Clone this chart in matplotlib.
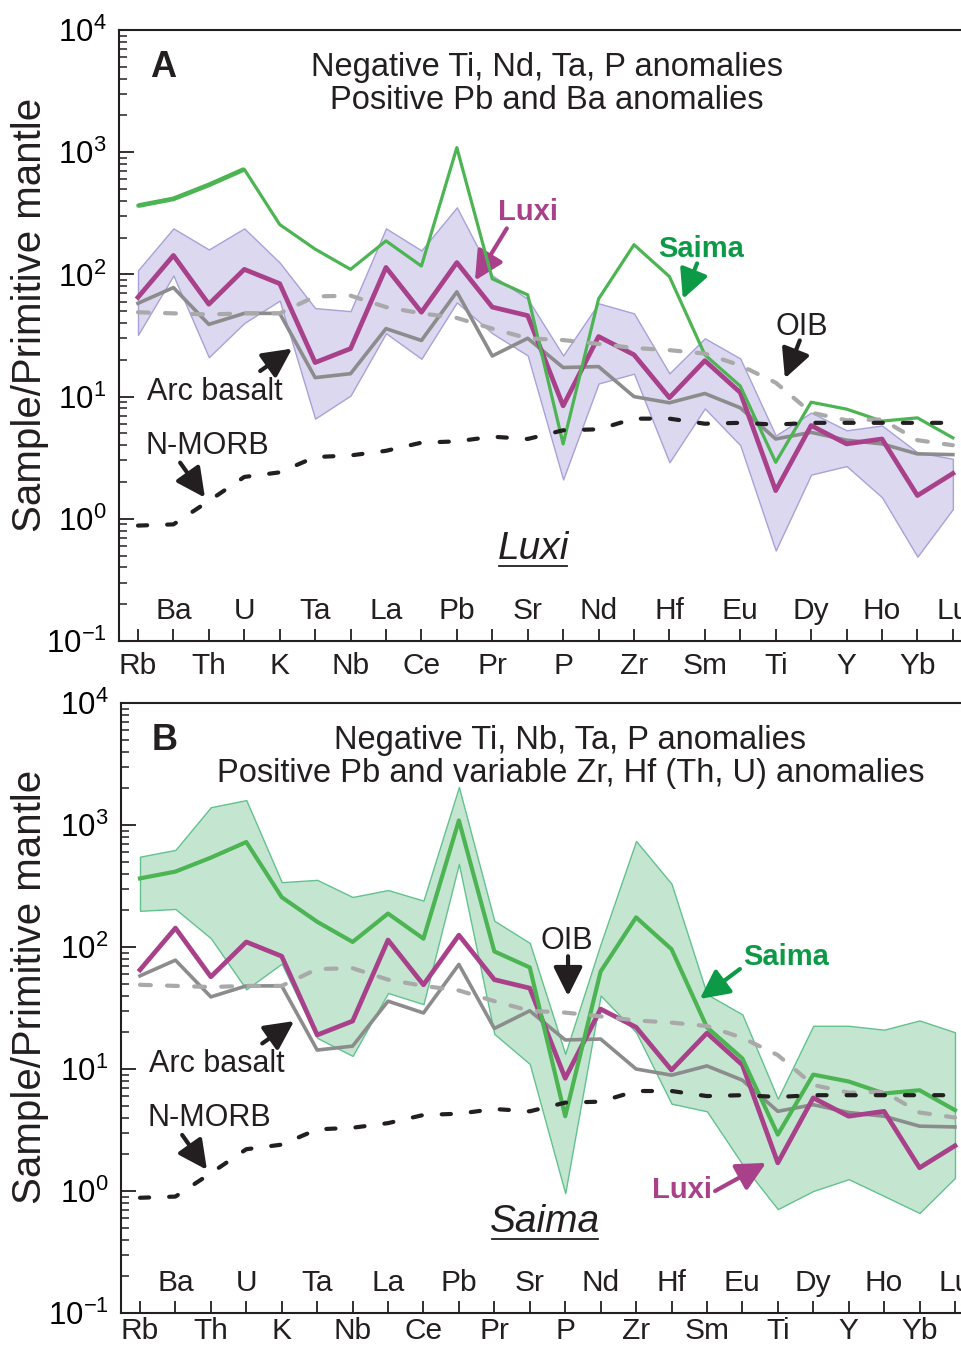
import matplotlib
matplotlib.use('Agg')
import matplotlib.pyplot as plt
import matplotlib.transforms as mtransforms
from matplotlib.lines import Line2D
import numpy as np

plt.rcParams['font.family'] = ['Liberation Sans', 'DejaVu Sans']
plt.rcParams['mathtext.fontset'] = 'custom'
plt.rcParams['mathtext.rm'] = 'Liberation Sans'
plt.rcParams['axes.unicode_minus'] = False

# primitive-mantle normalised values
elements = ['Rb', 'Ba', 'Th', 'U', 'K', 'Ta', 'Nb', 'La', 'Ce', 'Pb', 'Pr', 'Sr',
            'P', 'Nd', 'Zr', 'Hf', 'Sm', 'Eu', 'Ti', 'Dy', 'Y', 'Ho', 'Yb', 'Lu']

luxi_avg = [65, 143, 57, 110, 84, 19, 24.7, 114, 49, 125, 54, 46,
            8.4, 31, 22, 9.8, 19.7, 10.8, 1.7, 5.8, 4.1, 4.5, 1.55, 2.35]
luxi_max = [108, 238, 160, 238, 125, 53, 50, 238, 157, 354, 98, 63,
            21.7, 58, 48, 15.5, 30, 20.5, 4.8, 7.4, 5.3, 5.8, 3.5, 3.1]
luxi_min = [32, 98, 21, 40, 61, 6.6, 10.2, 33, 20.4, 59, 33, 21.7,
            2.1, 12.8, 15.4, 2.9, 8, 4, 0.55, 2.3, 2.7, 1.5, 0.49, 1.2]

saima_avg = [365, 415, 540, 725, 256, 161, 110, 188, 117, 1090, 92, 68,
             4.1, 63, 175, 96, 22, 12.2, 2.9, 9.0, 7.9, 6.3, 6.7, 4.6]
saima_max = [550, 625, 1400, 1600, 340, 355, 257, 293, 240, 2050, 164, 108,
             13.3, 106, 740, 330, 41, 28, 5.7, 22.6, 22.6, 21, 25, 20]
saima_min = [198, 205, 118, 45, 73, 18, 12.8, 42, 34, 480, 19.4, 11,
             0.96, 40, 20, 5.2, 4.5, 1.66, 0.71, 1.0, 1.25, 0.91, 0.66, 1.28]

arc_basalt = [58, 78, 39, 48, 48, 14.3, 15.4, 36, 28.8, 72, 21.5, 30,
              17.3, 17.6, 10.0, 8.9, 10.6, 8.1, 4.5, 5.1, 4.4, 4.1, 3.4, 3.35]
oib = [49, 48, 47, 48, 48, 66, 67, 54, 48, 44, 36, 30,
       29, 27, 25, 24, 22.5, 18, 13, 7.4, 6.4, 6.5, 4.4, 4.0]
nmorb = [0.88, 0.9, 1.4, 2.2, 2.4, 3.2, 3.3, 3.6, 4.2, 4.3, 4.7, 4.5,
         5.3, 5.4, 6.6, 6.6, 6.0, 6.1, 5.9, 6.1, 6.1, 6.1, 6.1, 6.1]

MAGENTA = '#a8418a'
GREEN = '#4db453'
GREEN_TXT = '#0c9a47'
GREY = '#8c8c8c'
OIB_GREY = '#a9a9a9'
BLACK = '#231f20'
FS = 21.5     # element labels
FS_NOTE = 22  # annotations

fig = plt.figure(figsize=(9.61, 13.47), dpi=100)
axA = fig.add_axes([119 / 961, 706 / 1347, 842 / 961, 611 / 1347])
axB = fig.add_axes([121 / 961, 34 / 1347, 840 / 961, 610 / 1347])


def arrow(ax, tail, head, color):
    ax.annotate('', xy=head, xytext=tail,
                arrowprops=dict(arrowstyle='-|>,head_length=0.8,head_width=0.4',
                                color=color, lw=3.0, mutation_scale=22,
                                shrinkA=0, shrinkB=0))


def setup_axes(ax, letter, line1, line2, title_x, right_lim, low_row_y):
    x = np.arange(len(elements))
    ax.set_yscale('log')
    ax.set_ylim(0.1, 1e4)
    ax.set_xlim(-0.536, right_lim)
    ax.set_xticks(x)
    ax.set_xticklabels([])
    ax.spines['right'].set_visible(False)
    for s in ['left', 'top', 'bottom']:
        ax.spines[s].set_linewidth(1.5)
        ax.spines[s].set_color(BLACK)
    ax.tick_params(axis='x', direction='in', length=9, width=1.3, color=BLACK)
    ax.tick_params(axis='y', which='major', direction='in', length=11, width=1.3,
                   labelsize=22.5, pad=9, color=BLACK)
    ax.tick_params(axis='y', which='minor', direction='in', length=6, width=1.1,
                   color=BLACK)

    # element names: two staggered rows
    trans = mtransforms.blended_transform_factory(ax.transData, ax.transAxes)
    for i, el in enumerate(elements):
        if i % 2 == 0:
            ax.text(i, low_row_y, el, transform=trans, ha='center', va='baseline',
                    fontsize=FS, color=BLACK)
        else:
            ax.text(i, 0.049, el, transform=trans, ha='center', va='center',
                    fontsize=FS, color=BLACK)

    ax.text(0.052, 0.939, letter, transform=ax.transAxes, fontsize=26,
            fontweight='bold', ha='center', va='center', color=BLACK)
    ax.text(title_x, 0.939, line1, transform=ax.transAxes, fontsize=23.5,
            ha='center', va='center', color=BLACK)
    ax.text(title_x, 0.884, line2, transform=ax.transAxes, fontsize=23.5,
            ha='center', va='center', color=BLACK)

    # reference curves
    ax.plot(x, arc_basalt, color=GREY, lw=2.6, zorder=3)
    ax.plot(x, luxi_avg, color=MAGENTA, lw=3.4, zorder=4)
    ax.plot(x, oib, color=OIB_GREY, lw=3, dashes=(2.6, 3.9),
            dash_capstyle='round', zorder=6)
    ax.plot(x, nmorb, color=BLACK, lw=3, dashes=(2.2, 4.8),
            dash_capstyle='round', zorder=7)

    ax.text(0.25, 11, 'Arc basalt', fontsize=FS_NOTE, ha='left', va='center',
            color=BLACK)
    arrow(ax, (3.45, 16.2), (4.35, 24.7), BLACK)
    ax.text(0.2, 3.97, 'N-MORB', fontsize=FS_NOTE, ha='left', va='center',
            color=BLACK)
    arrow(ax, (1.19, 2.88), (1.89, 1.49), BLACK)


x = np.arange(len(elements))

# ---- panel A : Luxi ----
setup_axes(axA, 'A', 'Negative Ti, Nd, Ta, P anomalies',
           'Positive Pb and Ba anomalies', 0.508, 23.23, -0.054)
axA.fill_between(x, luxi_min, luxi_max, facecolor='#dbd8ef', edgecolor='#a7a2d8',
                 lw=1, zorder=1)
axA.plot(x, saima_avg, color=GREEN, lw=2.3, zorder=5)
# the first stretch (Rb-U) is drawn heavier in the original
axA.plot(x[:4], saima_avg[:4], color=GREEN, lw=3.4, zorder=5,
         solid_capstyle='butt')
axA.text(11.0, 322, 'Luxi', fontsize=21, fontweight='bold', color=MAGENTA,
         ha='center', va='center')
arrow(axA, (10.41, 238), (9.51, 89), MAGENTA)
axA.text(15.89, 160, 'Saima', fontsize=21, fontweight='bold', color=GREEN_TXT,
         ha='center', va='center')
arrow(axA, (15.78, 123), (15.38, 63), GREEN_TXT)
axA.text(18.74, 36.8, 'OIB', fontsize=FS_NOTE, color=BLACK, ha='center',
         va='center')
arrow(axA, (18.68, 28.8), (18.26, 14.1), BLACK)
tA = axA.text(11.15, 0.568, 'Luxi', fontsize=28, fontstyle='italic', color=BLACK,
              ha='center', va='center')

# ---- panel B : Saima ----
setup_axes(axB, 'B', 'Negative Ti, Nb, Ta, P anomalies',
           'Positive Pb and variable Zr, Hf (Th, U) anomalies', 0.535, 23.17,
           -0.0426)
axB.fill_between(x, saima_min, saima_max, facecolor='#c4e6d1', edgecolor='#62c28e',
                 lw=1, zorder=1)
axB.plot(x, saima_avg, color=GREEN, lw=3.0, zorder=5)
axB.text(12.05, 112, 'OIB', fontsize=FS_NOTE, color=BLACK, ha='center',
         va='center')
arrow(axB, (12.08, 84), (12.08, 39.6), BLACK)
axB.text(18.23, 82.8, 'Saima', fontsize=21, fontweight='bold', color=GREEN_TXT,
         ha='center', va='center')
arrow(axB, (16.93, 66), (15.8, 37.5), GREEN_TXT)
axB.text(15.3, 1.02, 'Luxi', fontsize=21, fontweight='bold', color=MAGENTA,
         ha='center', va='center')
arrow(axB, (16.23, 1.0), (17.67, 1.7), MAGENTA)
tB = axB.text(11.43, 0.557, 'Saima', fontsize=28, fontstyle='italic', color=BLACK,
              ha='center', va='center')

fig.text(30 / 961, 1 - 315 / 1347, 'Sample/Primitive mantle', rotation=90,
         fontsize=29, ha='center', va='center', color=BLACK)
fig.text(30 / 961, 1 - 987 / 1347, 'Sample/Primitive mantle', rotation=90,
         fontsize=29, ha='center', va='center', color=BLACK)

# underline the italic locality names
fig.canvas.draw()
for t in (tA, tB):
    bb = t.get_window_extent()
    fig.add_artist(Line2D([bb.x0 + 2, bb.x1 - 2], [bb.y0 + 1, bb.y0 + 1],
                          transform=mtransforms.IdentityTransform(),
                          color=BLACK, lw=1.3))

fig.savefig('out.png', dpi=100)
plt.close(fig)
